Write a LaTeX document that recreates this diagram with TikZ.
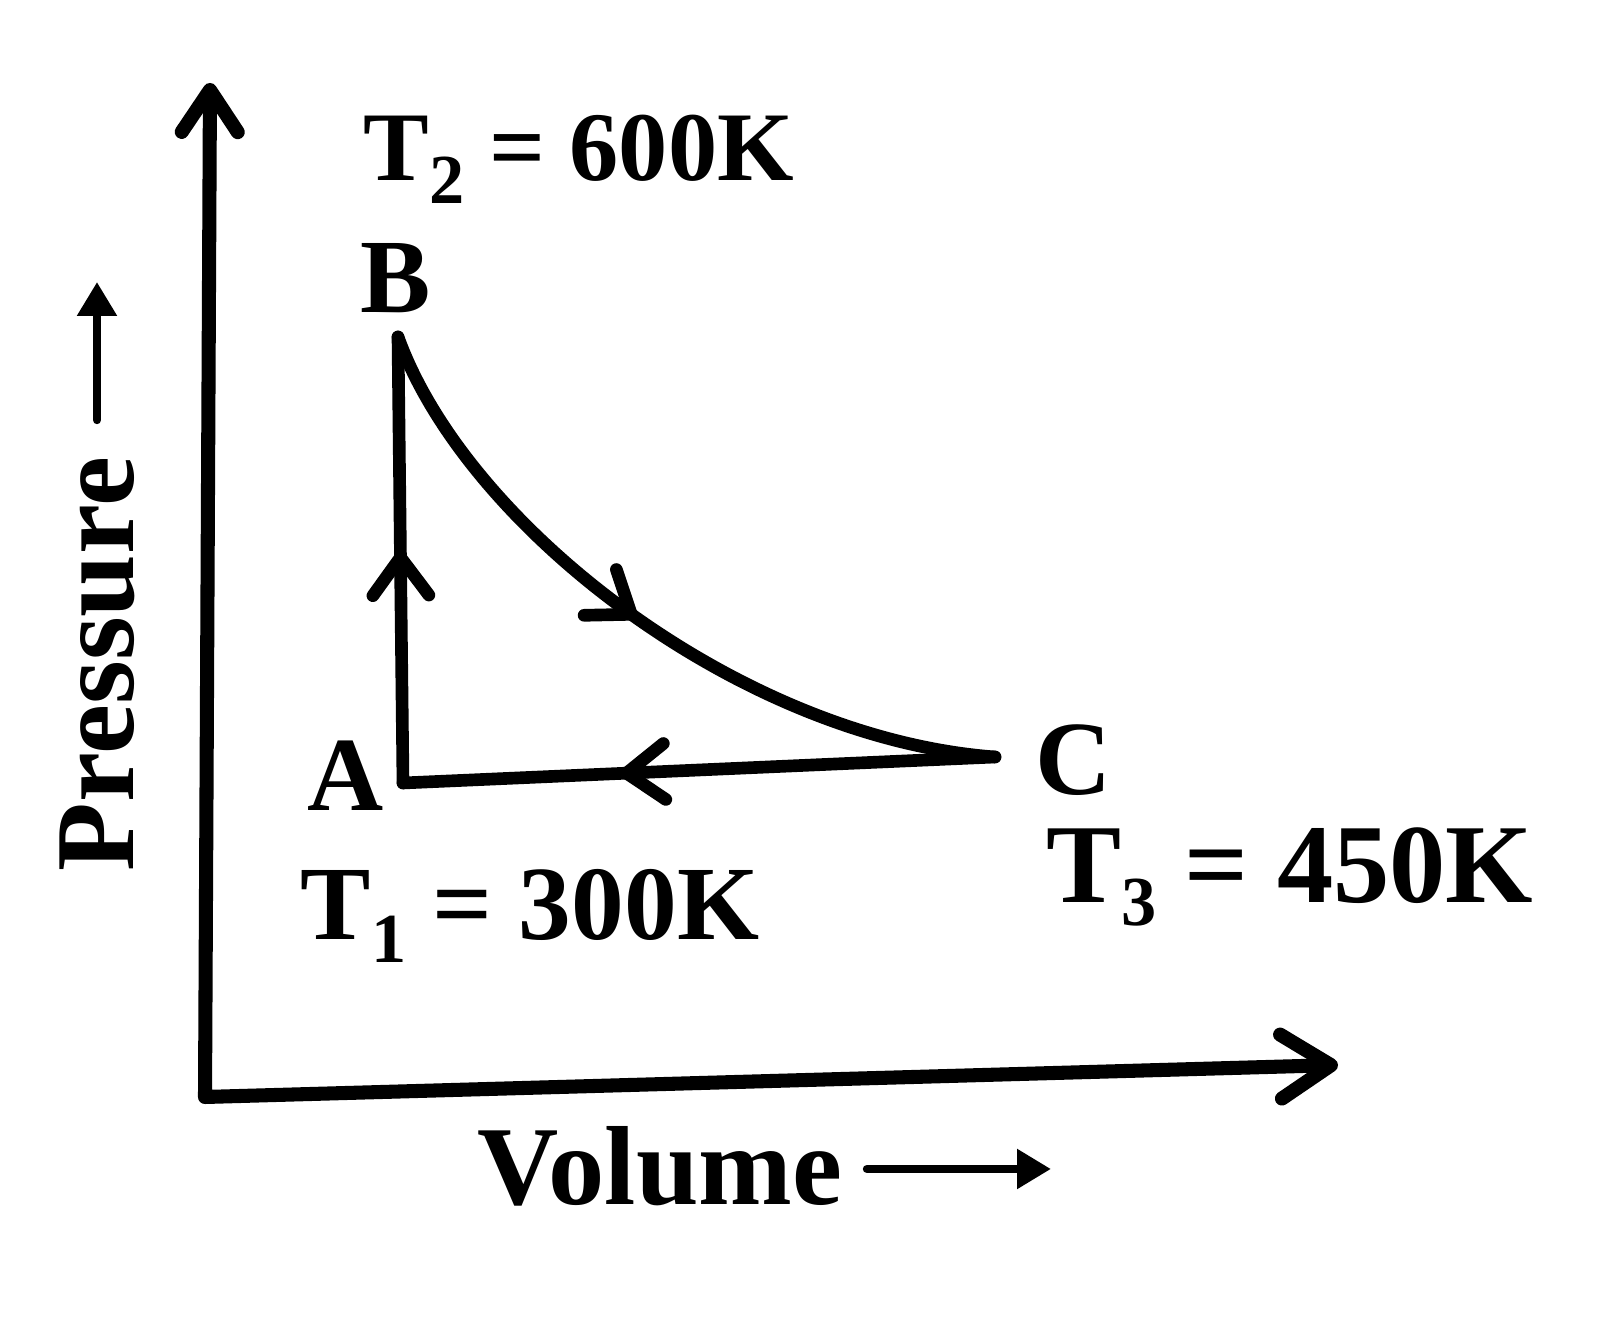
\documentclass[tikz,border=0pt]{standalone}
\usepackage{fontspec}
\setmainfont{Liberation Serif}
\usetikzlibrary{arrows.meta,decorations.markings}
\newcommand{\lowsub}[1]{\raisebox{-6.3pt}{\fontsize{20}{20}\selectfont #1}}
\begin{document}
\begin{tikzpicture}[
  line cap=round, line join=round,
  lbl/.style={font=\fontsize{30}{30}\selectfont\bfseries, inner sep=0pt},
  axlbl/.style={font=\fontsize{32}{32}\selectfont\bfseries, inner sep=0pt},
  axisline/.style={line width=4pt},
  cycleline/.style={line width=3.6pt},
  smallarrow/.style={line width=2.4pt, -{Triangle[length=3.4mm,width=3.8mm]}},
  midarrow/.style={postaction={decorate}, decoration={markings,
    mark=at position #1 with {\arrow{Straight Barb[round,length=3.8mm,width=5.6mm]}}}}
]
\useasboundingbox (0,0) rectangle (16.08,13.26);

% axes
\coordinate (O) at (2.05,2.29);
\coordinate (Ytip) at (2.10,12.43);
\coordinate (Xtip) at (13.38,2.61);
\draw[axisline, {Straight Barb[round,length=4.2mm,width=5.6mm]}-{Straight Barb[round,length=5mm,width=6.4mm]}]
  (Ytip) -- (O) -- (Xtip);

% cycle points
\coordinate (pA) at (4.03,5.43);
\coordinate (pB) at (3.98,9.89);
\coordinate (pC) at (9.95,5.69);
\draw[cycleline, midarrow=0.52] (pA) -- (pB);
\draw[cycleline, midarrow=0.49] (pB) .. controls (4.66,8.00) and (7.40,5.88) .. (pC);
\draw[cycleline, midarrow=0.633] (pC) -- (pA);

% labels
\node[lbl, anchor=base] (lB) at (3.96,10.13) {B};
\node[lbl, anchor=base] (lA) at (3.46,5.15) {A};
\node[lbl, anchor=base] (lC) at (10.74,5.31) {C};
\node[lbl, anchor=base west, font=\fontsize{28}{28}\selectfont\bfseries] (t2) at (3.63,11.45) {T\lowsub{2} = 600K};
\node[lbl, anchor=base west] (t1) at (3.00,3.86) {T\lowsub{1} = 300K};
\node[lbl, anchor=base west, font=\fontsize{32}{32}\selectfont\bfseries] (t3) at (10.46,4.23) {T\lowsub{3} = 450K};

% axis titles
\node[axlbl, anchor=base west] (vol) at (4.77,1.21) {Volume};
\coordinate (vs) at (8.67,1.57);
\coordinate (ve) at (10.51,1.57);
\draw[smallarrow] (vs) -- (ve);
\node[axlbl, anchor=base west, rotate=90] (pre) at (1.33,4.54) {Pressure};
\coordinate (ps) at (0.97,9.06);
\coordinate (pe) at (0.97,10.44);
\draw[smallarrow] (ps) -- (pe);
\end{tikzpicture}
\end{document}
